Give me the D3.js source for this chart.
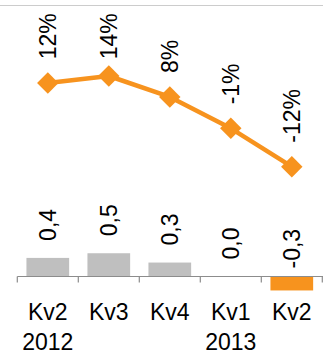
<!DOCTYPE html>
<html>
<head>
<meta charset="utf-8">
<script src="https://cdn.jsdelivr.net/npm/d3@7"></script>
<style>
  html, body { margin: 0; padding: 0; background: #fff; }
  svg { display: block; font-family: "Liberation Sans", Arial, sans-serif; }
</style>
</head>
<body>
<svg id="chart" width="323" height="354"></svg>
<script>
// Quarterly figures
const quarters = ["Kv2", "Kv3", "Kv4", "Kv1", "Kv2"];
const years = ["2012", "", "", "2013", ""];
const growthPct = [12, 14, 8, -1, -12];          // line, percent
const change = [0.4, 0.5, 0.3, 0.0, -0.3];       // bars
const changeLabels = ["0,4", "0,5", "0,3", "0,0", "-0,3"];

const orange = "#F7931E";
const grey = "#BFBFBF";
const axisGrey = "#8C8C8C";
const fontSize = 23;

const svg = d3.select("#chart");

// shared horizontal band scale
const x = d3.scaleBand()
  .domain(d3.range(quarters.length))
  .range([17.3, 322.3])
  .paddingInner(0.3)
  .paddingOuter(0.15);
const cx = i => x(i) + x.bandwidth() / 2;

// line scale (percent)
const yLine = d3.scaleLinear().domain([-12, 14]).range([166.7, 76]);
// bar scale
const yBar = d3.scaleLinear().domain([-0.5, 0.5]).range([299.75, 253.25]);

// top rule
svg.append("line")
  .attr("x1", 0).attr("x2", 323)
  .attr("y1", 5.5).attr("y2", 5.5)
  .attr("stroke", "#CCCCCC").attr("stroke-width", 1);

// line series
svg.append("path")
  .datum(growthPct)
  .attr("fill", "none")
  .attr("stroke", orange)
  .attr("stroke-width", 4.5)
  .attr("stroke-linejoin", "round")
  .attr("d", d3.line().x((d, i) => cx(i)).y(d => yLine(d)));

svg.selectAll("path.marker")
  .data(growthPct)
  .join("path")
  .attr("class", "marker")
  .attr("d", d3.symbol().type(d3.symbolSquare).size(230))
  .attr("fill", orange)
  .attr("transform", (d, i) => `translate(${cx(i)},${yLine(d)}) rotate(45)`);

// percent labels, vertical, kept below the top rule
const labelTop = 13.3;
svg.selectAll("text.pct")
  .data(growthPct)
  .join("text")
  .attr("class", "pct")
  .attr("font-size", fontSize)
  .attr("fill", "#000")
  .attr("dy", "0.35em")
  .text(d => d + "%")
  .each(function (d, i) {
    const len = this.getComputedTextLength();
    const start = Math.max(yLine(d) - 24, labelTop + len);
    d3.select(this).attr("transform", `translate(${cx(i)},${start}) rotate(-90)`);
  });

// bars
const zeroY = yBar(0);
svg.selectAll("rect.bar")
  .data(change)
  .join("rect")
  .attr("class", "bar")
  .attr("x", (d, i) => x(i))
  .attr("width", x.bandwidth())
  .attr("y", d => Math.min(yBar(d), zeroY))
  .attr("height", d => Math.abs(yBar(d) - zeroY))
  .attr("fill", d => d < 0 ? orange : grey);

// bar value labels
svg.selectAll("text.val")
  .data(change)
  .join("text")
  .attr("class", "val")
  .attr("font-size", fontSize)
  .attr("fill", "#000")
  .attr("dy", "0.35em")
  .attr("transform", (d, i) => {
    const start = d < 0 ? zeroY - 8 : yBar(d) - 17;
    return `translate(${cx(i)},${start}) rotate(-90)`;
  })
  .text((d, i) => changeLabels[i]);

// category axis: baseline with ticks at band boundaries
const gAxis = svg.append("g")
  .attr("transform", `translate(0,${zeroY})`);
gAxis.append("line")
  .attr("x1", x.range()[0]).attr("x2", 323)
  .attr("stroke", axisGrey).attr("stroke-width", 1.2);

const boundary = i => {
  if (i === 0) return x.range()[0];
  if (i === quarters.length) return x.range()[1];
  return x(i) - x.step() * x.paddingInner() / 2;
};
gAxis.selectAll("line.tick")
  .data(d3.range(quarters.length + 1))
  .join("line")
  .attr("class", "tick")
  .attr("x1", boundary)
  .attr("x2", boundary)
  .attr("y1", 0).attr("y2", 6)
  .attr("stroke", axisGrey).attr("stroke-width", 1.2);

svg.selectAll("text.q")
  .data(quarters)
  .join("text")
  .attr("class", "q")
  .attr("font-size", fontSize)
  .attr("fill", "#000")
  .attr("text-anchor", "middle")
  .attr("x", (d, i) => cx(i))
  .attr("y", 320)
  .text(d => d);

svg.selectAll("text.yr")
  .data(years)
  .join("text")
  .attr("class", "yr")
  .attr("font-size", fontSize)
  .attr("fill", "#000")
  .attr("text-anchor", "middle")
  .attr("x", (d, i) => cx(i))
  .attr("y", 350)
  .text(d => d);
</script>
</body>
</html>
